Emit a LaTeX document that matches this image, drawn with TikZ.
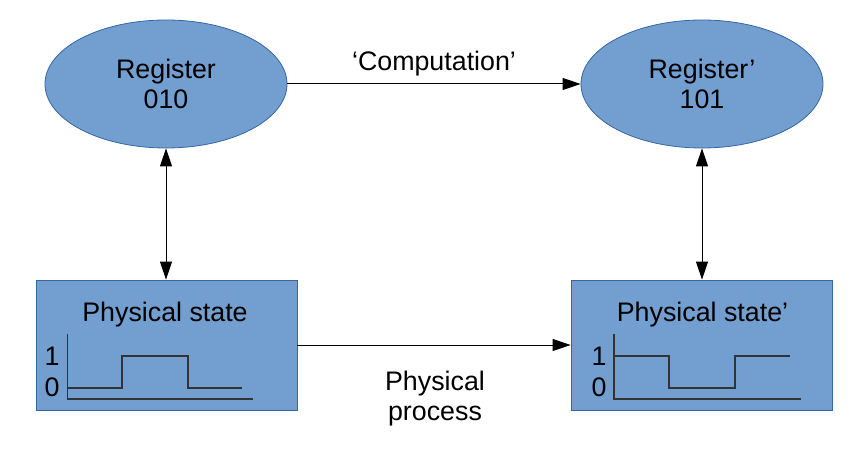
\documentclass[tikz,border=0pt]{standalone}
\usepackage{fontspec}
\setmainfont{Liberation Sans}
\usepackage{tikz}
\usetikzlibrary{shapes,arrows.meta}
\definecolor{fond}{HTML}{729FCF}
\definecolor{bord}{HTML}{3465A4}
\definecolor{trait}{HTML}{333333}
\tikzset{reg/.style={
    ellipse,
    fill=fond,
    draw=bord,
    minimum width=121pt,
    minimum height=64pt,
    align=center,
    font=\fontsize{13.4}{15}\selectfont},
  etat/.style={
    rectangle,
    fill=fond,
    draw=bord,
    minimum width=130.5pt,
    minimum height=65pt},
  fleche/.style={
    -{Triangle[length=9pt,width=6pt]},
    line width=0.5pt},
  double fleche/.style={
    {Triangle[length=9pt,width=6pt]}-{Triangle[length=9pt,width=6pt]},
    line width=0.5pt}}

\begin{document}
\begin{tikzpicture}[x=0.5pt, y=-0.5pt, font=\fontsize{13.4}{15}\selectfont]

\useasboundingbox (0,0) rectangle (867,454);

\coordinate (R1) at (166,84);
\coordinate (R2) at (702,84);
\coordinate (P1) at (166.5,345);
\coordinate (P2) at (701.5,345);

\node[reg] (r1) at (R1) {Register\\010};
\node[reg] (r2) at (R2) {Register’\\101};

\node[etat] (p1) at (P1) {};
\node[etat] (p2) at (P2) {};

\node (t1) at (165,315) {Physical state};
\node (t2) at (702.5,315) {Physical state’};

% signal avant
\draw[trait,line width=0.6pt] (67.5,334) -- (67.5,399) -- (253,399);
\draw[trait,line width=0.6pt] (67.5,388) -- (122,388) -- (122,356) -- (188,356) -- (188,388) -- (242,388);
\node (u1) at (52,356) {1};
\node (z1) at (52,387) {0};

% signal apres
\draw[trait,line width=0.6pt] (614,334) -- (614,399) -- (801,399);
\draw[trait,line width=0.6pt] (614,356) -- (669,356) -- (669,388) -- (735,388) -- (735,356) -- (790,356);
\node (u2) at (599,356) {1};
\node (z2) at (599,387) {0};

\draw[fleche] (r1) to node[above=0.5pt] {‘Computation’} (r2);
\draw[fleche] (p1) to (p2);
\node[align=center] (lp) at (435,399) {Physical\\process};

\draw[double fleche] (r1) -- (p1.north -| r1);
\draw[double fleche] (r2) -- (p2.north -| r2);

\end{tikzpicture}
\end{document}
